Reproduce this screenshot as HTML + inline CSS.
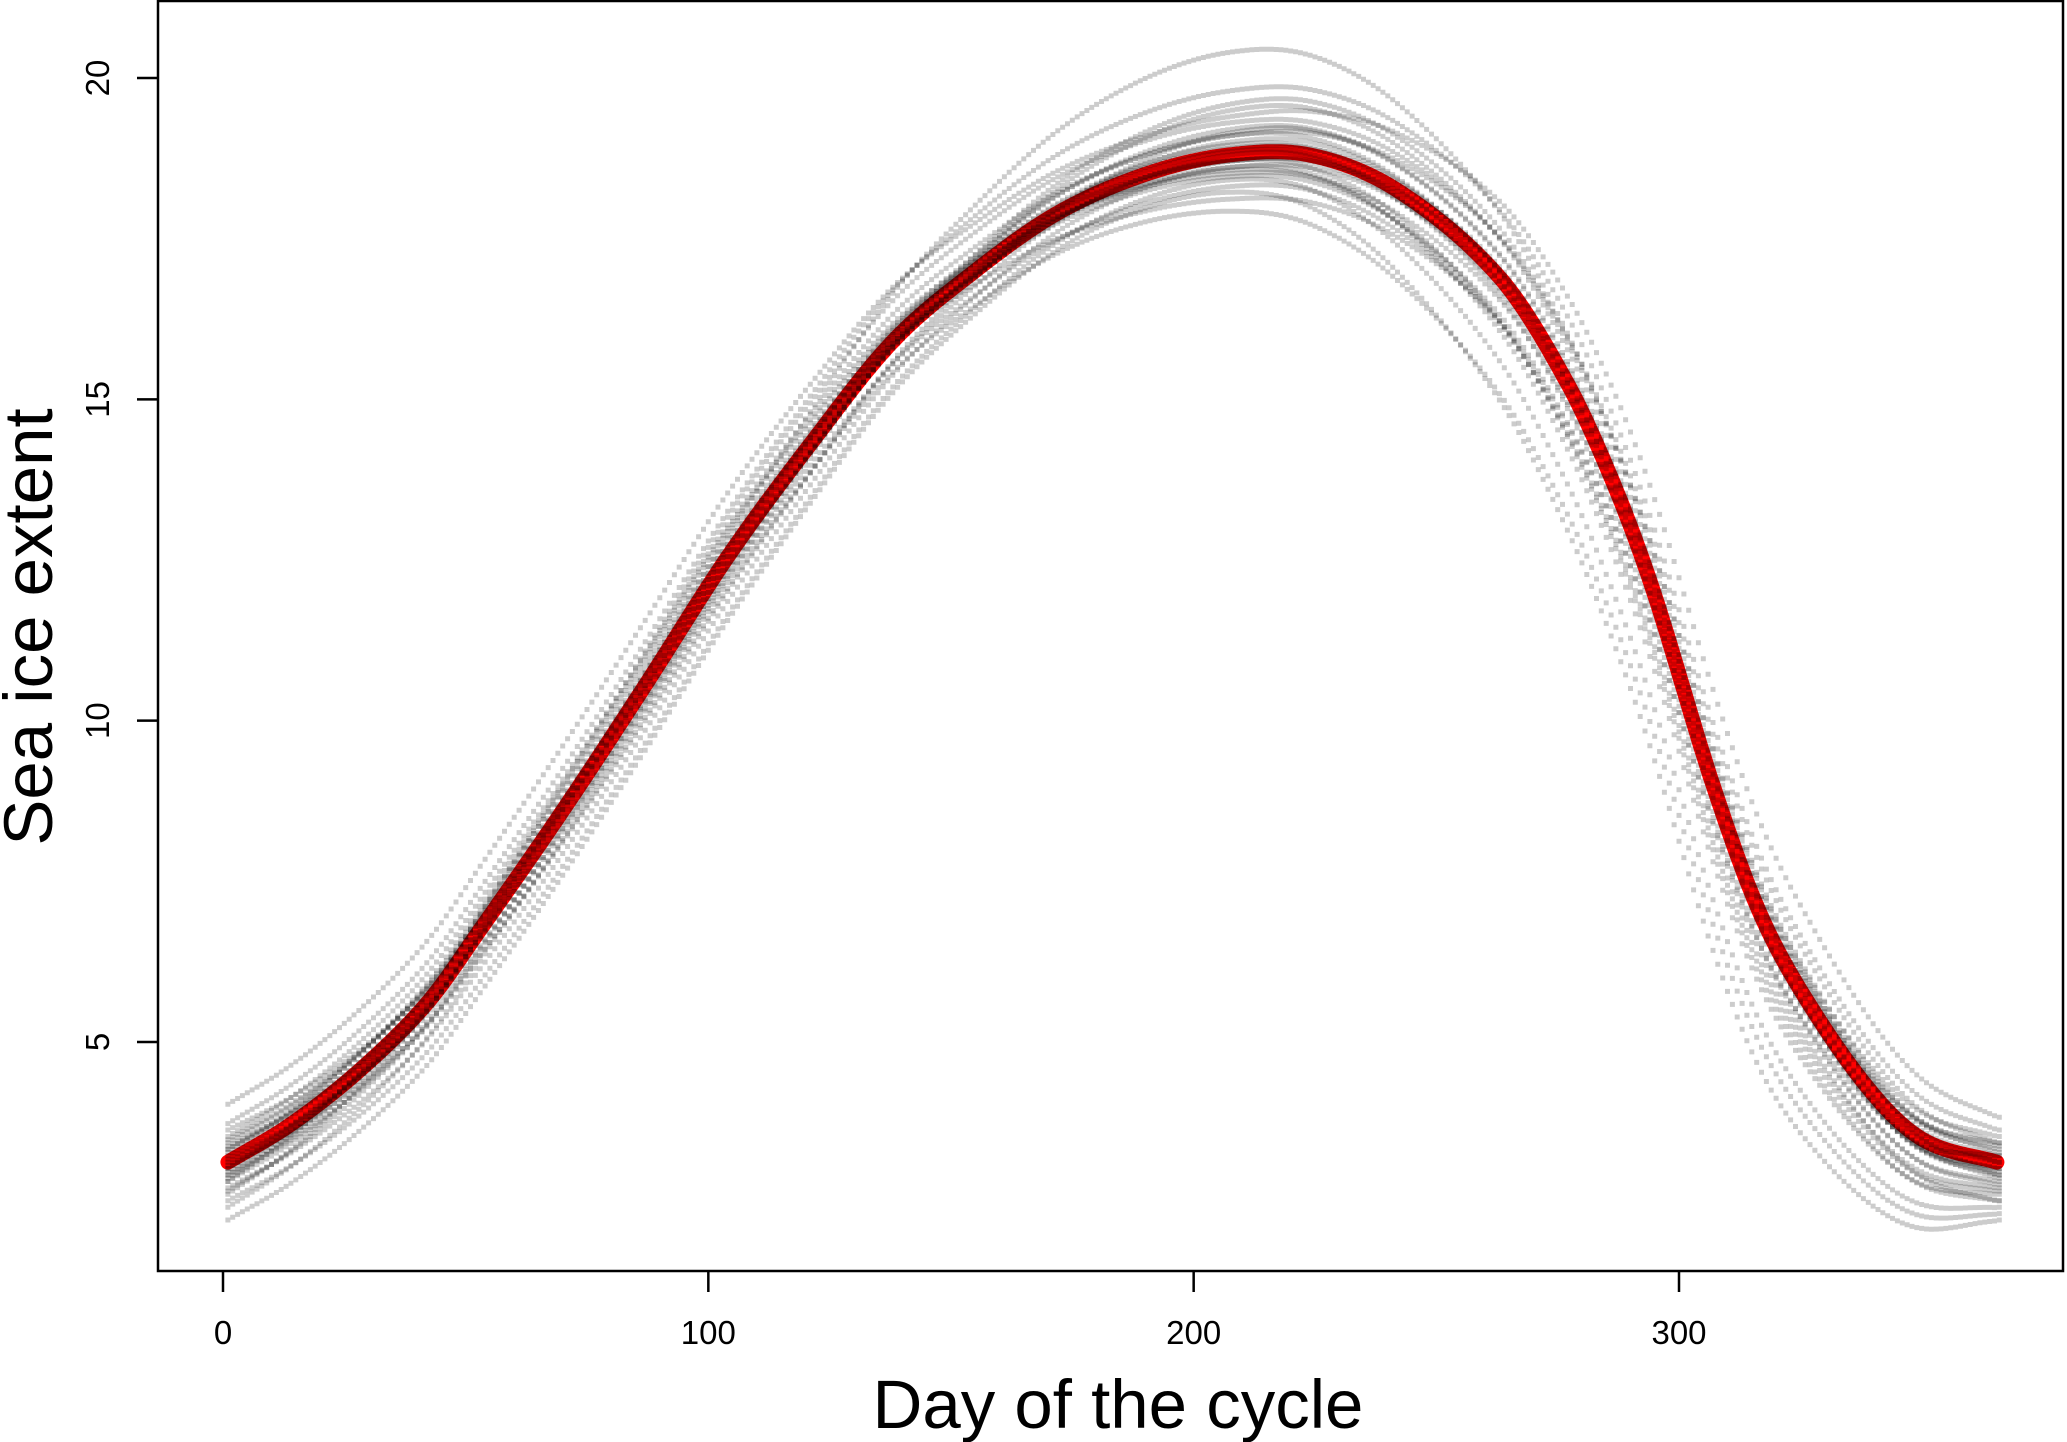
<!DOCTYPE html>
<html><head><meta charset="utf-8"><style>
html,body{margin:0;padding:0;background:#fff;}
svg{display:block;font-family:"Liberation Sans",Arial,sans-serif;}
</style></head><body>
<svg id="chart" width="2067" height="1442" viewBox="0 0 2067 1442" xmlns="http://www.w3.org/2000/svg">
<rect x="0" y="0" width="2067" height="1442" fill="#fff"/>
<g id="plot"></g>
<rect x="158" y="1" width="1905" height="1270" fill="none" stroke="#000" stroke-width="2.5"/>
<g id="axes"></g>
<text x="1118" y="1428" font-size="69" text-anchor="middle">Day of the cycle</text>
<text transform="translate(52,627) rotate(-90)" font-size="69" text-anchor="middle">Sea ice extent</text>
</svg>
<script>
const meanDays = [1,14,28,42,53,70,87,104,121,138,155,172,190,207,224,242,263,277,287,295,307,317,328,341,351,365.5];
const meanVals = [3.13,3.72,4.55,5.6,6.75,8.6,10.55,12.55,14.3,15.9,17.0,17.9,18.5,18.8,18.8,18.25,16.9,15.25,13.6,11.95,9.0,6.95,5.45,4.1,3.45,3.13];
const xTicks = [0,100,200,300];
const yTicks = [5,10,15,20];
const runKnotDays = [1,100,210,300,366];
const runOffsets = [
 [0.9,1.0,0.6,1.5,0.7],[0.6,0.7,1.0,1.0,0.5],[0.4,0.5,0.3,0.8,0.3],[0.3,0.3,1.6,0.5,0.4],
 [0.2,0.0,0.4,0.3,0.2],[0.0,-0.2,0.2,0.0,0.0],[-0.1,0.4,-0.3,-0.3,-0.1],[-0.2,-0.5,0.0,-0.5,-0.3],
 [-0.3,-0.3,-0.5,-0.8,-0.4],[-0.4,-0.7,-0.2,-1.2,-0.5],[-0.5,0.2,-0.7,-0.6,-0.6],[-0.6,-0.9,-0.4,-1.8,-0.7],
 [-0.7,-0.4,-0.9,-2.2,-0.8],[-0.9,-1.0,-0.6,-2.6,-0.9],[-0.3,0.6,0.5,0.6,-0.2],[0.5,-0.1,-0.1,-1.0,-0.6],
 [0.1,0.2,0.1,0.2,0.1],[-0.1,-0.1,-0.1,-0.2,-0.1],[0.2,0.3,-0.2,0.1,0.3],[-0.2,0.1,0.3,-0.1,-0.2],
 [0.05,-0.35,0.7,0.4,0.0],[-0.15,0.15,-0.35,-0.6,0.1],[0.35,0.1,0.15,-0.2,-0.15],[-0.45,-0.2,0.05,-0.4,-0.35],
 [0.15,0.45,-0.1,0.3,0.25],[-0.05,-0.55,0.35,0.2,-0.25],[0.25,-0.25,0.8,0.6,0.15],[-0.25,0.0,-0.25,-0.9,-0.45]
];
const NS='http://www.w3.org/2000/svg';
function xs(d){return 223+(d-0)*(1679-223)/300;}
function ys(v){return 78+(20-v)*(1042-78)/15;}
function makeInterp(X,Y){
 const n=X.length,m=new Array(n);
 m[0]=(Y[1]-Y[0])/(X[1]-X[0]);m[n-1]=(Y[n-1]-Y[n-2])/(X[n-1]-X[n-2]);
 for(let i=1;i<n-1;i++)m[i]=(Y[i+1]-Y[i-1])/(X[i+1]-X[i-1]);
 return function(x){
  let i=0;while(i<n-2&&x>X[i+1])i++;
  const h=X[i+1]-X[i],t=Math.max(0,Math.min(1,(x-X[i])/h));
  const t2=t*t,t3=t2*t;
  return (2*t3-3*t2+1)*Y[i]+(t3-2*t2+t)*h*m[i]+(-2*t3+3*t2)*Y[i+1]+(t3-t2)*h*m[i+1];
 };
}
const mean=makeInterp(meanDays,meanVals);
const offInterp=runOffsets.map(o=>makeInterp(runKnotDays,o));
const plot=document.getElementById('plot');
let d='';
for(let day=meanDays[0];day<=meanDays[meanDays.length-1];day+=0.5){d+=(d?'L':'M')+xs(day).toFixed(1)+','+ys(mean(day)).toFixed(1);}
const red=document.createElementNS(NS,'path');
red.setAttribute('d',d);red.setAttribute('fill','none');red.setAttribute('stroke','#f00');
red.setAttribute('stroke-width','15');red.setAttribute('stroke-linecap','round');red.setAttribute('stroke-linejoin','round');


plot.appendChild(red);
offInterp.forEach((oi)=>{
 const g=document.createElementNS(NS,'path');
 let p='';
 for(let day=1;day<=366;day++){
  const v=mean(Math.min(day,365.5))+oi(day);
  const x=xs(day),y=ys(v);
  p+='M'+(x-2.5).toFixed(1)+','+(y-2.5).toFixed(1)+'h5v5h-5z';
 }
 g.setAttribute('d',p);g.setAttribute('fill','rgba(0,0,0,0.2)');
 
 
 plot.appendChild(g);
});
const axes=document.getElementById('axes');
xTicks.forEach(t=>{
 const l=document.createElementNS(NS,'line');
 l.setAttribute('x1',xs(t));l.setAttribute('x2',xs(t));l.setAttribute('y1',1271);l.setAttribute('y2',1292);
 l.setAttribute('stroke','#000');l.setAttribute('stroke-width','2.5');
 
 
 axes.appendChild(l);
 const tx=document.createElementNS(NS,'text');
 tx.setAttribute('x',xs(t));tx.setAttribute('y',1344);tx.setAttribute('font-size','33');tx.setAttribute('text-anchor','middle');
 tx.textContent=t;
 
 
 axes.appendChild(tx);
});
yTicks.forEach(t=>{
 const l=document.createElementNS(NS,'line');
 l.setAttribute('x1',137);l.setAttribute('x2',158);l.setAttribute('y1',ys(t));l.setAttribute('y2',ys(t));
 l.setAttribute('stroke','#000');l.setAttribute('stroke-width','2.5');
 
 
 axes.appendChild(l);
 const tx=document.createElementNS(NS,'text');
 tx.setAttribute('transform','translate(109,'+ys(t)+') rotate(-90)');tx.setAttribute('font-size','33');tx.setAttribute('text-anchor','middle');
 tx.textContent=t;
 
 
 axes.appendChild(tx);
});
</script>
</body></html>
